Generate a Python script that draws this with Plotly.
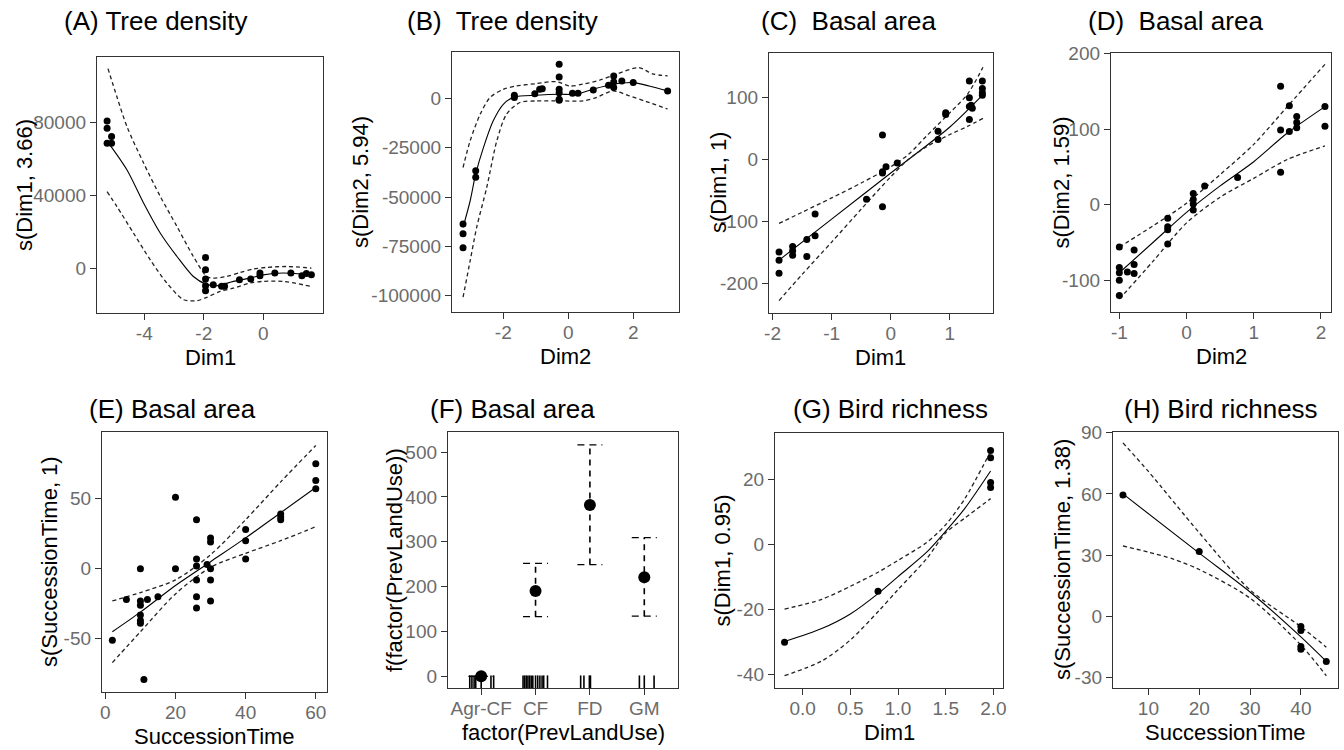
import plotly.graph_objects as go

# ---- data ----
# (A) Tree density ~ s(Dim1, 3.66)
a_pts_x = [-5.25, -5.25, -5.1, -5.25, -5.1, -1.94, -1.94, -1.94, -1.94, -1.94, -1.68, -1.4, -1.3,
           -0.8, -0.42, -0.11, -0.11, 0.39, 0.93, 1.3, 1.45, 1.62]
a_pts_y = [81000, 77000, 72500, 68700, 68700, 5900, -900, -6000, -9700, -12400, -9100, -10000, -10000,
           -6400, -6000, -2700, -4200, -2700, -2700, -4200, -3000, -3600]
a_fit_x = [-5.2, -4.58, -4.02, -3.46, -2.9, -2.35, -1.93, -1.56, -1.0, -0.44, 0.0, 0.67, 1.62]
a_fit_y = [68800, 54000, 35700, 19200, 6400, -4600, -8800, -9700, -7300, -5500, -3700, -2700, -3700]
a_up_x = [-5.22, -4.92, -4.58, -4.02, -3.46, -2.9, -2.35, -1.9, -1.68, -1.23, -0.78, -0.34, 0.11, 0.78, 1.62]
a_up_y = [109800, 94300, 77800, 57700, 39400, 22900, 6400, -4600, -5500, -4600, -2400, -500, 400, 900, 0]
a_lo_x = [-5.25, -4.92, -4.36, -3.8, -3.24, -2.68, -2.23, -1.9, -1.45, -1.0, -0.44, 0.0, 0.67, 1.62]
a_lo_y = [42100, 33900, 19200, 4600, -8200, -17400, -17900, -16100, -12800, -11000, -8200, -7300, -7300, -10100]

# (B) Tree density ~ s(Dim2, 5.94)
b_pts_x = [-3.24, -3.24, -3.24, -2.85, -2.85, -1.66, -1.66, -1.03, -0.88, -0.8, -0.28, -0.28, -0.28,
           -0.28, -0.28, -0.28, 0.13, 0.3, 0.77, 1.24, 1.4, 1.4, 1.4, 1.65, 2.0, 3.06]
b_pts_y = [-63700, -68700, -75800, -36600, -40000, 1700, 500, 2500, 4700, 5000, 17400, 11000, 4700,
           3000, -300, -800, 2700, 2700, 4400, 6700, 11500, 8400, 5600, 8900, 8100, 3900]
b_fit_x = [-3.24, -3.02, -2.85, -2.61, -2.31, -2.0, -1.66, -0.98, -0.27, 0.24, 0.76, 1.27, 2.0, 2.49, 3.06]
b_fit_y = [-65400, -51900, -38300, -24800, -11300, -2900, 800, 1700, 2200, 2200, 4700, 6900, 8100, 6400, 3900]
b_up_x = [-3.24, -3.02, -2.71, -2.41, -2.0, -1.59, -0.98, -0.37, 0.04, 0.45, 0.96, 1.47, 2.17, 2.6, 3.06]
b_up_y = [-35000, -21400, -7900, 500, 4700, 6400, 7600, 8600, 6400, 7300, 9300, 12300, 15700, 12500, 11500]
b_lo_x = [-3.24, -3.02, -2.82, -2.51, -2.2, -1.9, -1.49, -0.98, -0.18, 0.45, 0.86, 1.37, 1.88, 2.4, 3.06]
b_lo_y = [-100900, -82300, -65400, -45100, -21500, -7900, -2000, -1200, -1200, -1200, 500, 3900, 1400, -1500, -5300]

# (C) Basal area ~ s(Dim1, 1)
c_pts_x = [-1.89, -1.89, -1.89, -1.66, -1.66, -1.66, -1.42, -1.42, -1.28, -1.28, -0.41, -0.14, -0.14,
           -0.14, -0.14, -0.08, 0.11, 0.8, 0.8, 0.93, 0.93, 1.33, 1.33, 1.33, 1.33, 1.36, 1.38, 1.55,
           1.55, 1.55, 1.55]
c_pts_y = [-149, -162, -183, -140, -147, -154, -129, -156, -88, -123, -64, 39, -20, -22, -76, -12, -6,
           45, 32, 75, 72, 126, 99, 85, 64, 87, 82, 126, 114, 107, 103]
c_fit_x = [-1.89, -1.0, 0.0, 1.0, 1.56]
c_fit_y = [-162, -96, -22, 52, 104]
c_up_x = [-1.89, -1.5, -1.0, -0.5, 0.0, 0.3, 0.6, 1.0, 1.3, 1.56]
c_up_y = [-103, -85, -62, -38, -12, 8, 37, 75, 105, 148]
c_lo_x = [-1.89, -1.5, -1.0, -0.5, 0.0, 0.3, 0.6, 1.0, 1.3, 1.56]
c_lo_y = [-227, -185, -133, -80, -28, 0, 20, 40, 53, 66]

# (D) Basal area ~ s(Dim2, 1.59)
d_pts_x = [-1.0, -1.0, -1.0, -1.0, -1.0, -0.88, -0.78, -0.78, -0.78, -0.28, -0.28, -0.28, -0.28,
           0.1, 0.1, 0.1, 0.1, 0.27, 0.76, 1.4, 1.4, 1.4, 1.53, 1.53, 1.64, 1.64, 1.64, 2.06, 2.06]
d_pts_y = [-56, -83, -90, -100, -120, -89, -60, -79, -91, -18, -29, -33, -52, 15, 7, 1, -7, 25, 36,
           157, 99, 43, 131, 97, 117, 109, 102, 130, 104]
d_fit_x = [-1.0, -0.5, 0.0, 0.5, 1.0, 1.5, 2.06]
d_fit_y = [-90, -50, -10, 25, 57, 95, 130]
d_up_x = [-1.0, -0.5, 0.0, 0.5, 1.0, 1.5, 2.06]
d_up_y = [-56, -28, 2, 40, 80, 130, 186]
d_lo_x = [-1.0, -0.5, 0.0, 0.5, 1.0, 1.5, 2.06]
d_lo_y = [-125, -75, -24, 10, 35, 60, 78]

# (E) Basal area ~ s(SuccessionTime, 1)
e_pts_x = [2, 6, 10, 10, 10, 10, 10, 10, 11, 12, 15, 20, 20, 26, 26, 26, 26, 26, 26, 29, 30, 30, 30,
           30, 30, 40, 40, 40, 50, 50, 50, 60, 60, 60]
e_pts_y = [-51, -22, 0, -23, -26, -33, -37, -39, -79, -22, -20, 51, 0, 35, 7, 2, -8, -20, -28, 3, 22,
           19, 0, -8, -23, 28, 20, 7, 39, 37, 35, 75, 63, 57]
e_fit_x = [2, 10, 20, 30, 40, 50, 60]
e_fit_y = [-45, -31, -12, 5, 22, 40, 58]
e_up_x = [2, 10, 20, 30, 40, 50, 60]
e_up_y = [-23, -17, -8, 10, 35, 62, 88]
e_lo_x = [2, 10, 20, 30, 40, 50, 60]
e_lo_y = [-67, -45, -18, 1, 11, 20, 30]

# (F) Basal area ~ factor(PrevLandUse)
f_cats = ["Agr-CF", "CF", "FD", "GM"]
f_est = [0, 190, 382, 221]
f_upper = [0, 252, 516, 309]
f_lower = [0, 133, 249, 134]
f_rug_cat = [1, 1, 1, 1, 1, 1, 1, 2, 2, 2, 2, 2, 2, 2, 2, 2, 2, 2, 2, 2, 3, 3, 3, 3, 4, 4, 4]
f_rug_off = [-0.21, -0.17, -0.13, -0.1, 0.0, 0.18, 0.23, -0.23, -0.2, -0.17, -0.14, -0.11, -0.08,
             -0.05, 0.0, 0.04, 0.08, 0.12, 0.15, 0.22, -0.17, -0.11, -0.01, 0.01, -0.09, 0.0, 0.18]

# (G) Bird richness ~ s(Dim1, 0.95)
g_pts_x = [-0.19, 0.79, 1.97, 1.97, 1.97, 1.97]
g_pts_y = [-30.2, -14.5, 28.8, 26.6, 19.0, 17.4]
g_fit_x = [-0.19, 0.2, 0.5, 0.8, 1.0, 1.3, 1.5, 1.7, 1.97]
g_fit_y = [-30, -26, -21.5, -15, -10, -2.5, 4, 11, 22.5]
g_up_x = [-0.19, 0.2, 0.5, 0.8, 1.0, 1.3, 1.5, 1.7, 1.97]
g_up_y = [-20, -17, -13, -8.5, -5, 0.5, 6, 14, 28.5]
g_lo_x = [-0.19, 0.2, 0.5, 0.8, 1.0, 1.3, 1.5, 1.7, 1.97]
g_lo_y = [-40.5, -36, -29.5, -20.5, -14, -4.5, 3.5, 8, 14]

# (H) Bird richness ~ s(SuccessionTime, 1.38)
h_pts_x = [5, 20, 40, 40, 40, 40, 45]
h_pts_y = [59.5, 31.8, -4.9, -6.9, -14.7, -16, -22]
h_fit_x = [5, 20, 30, 40, 45]
h_fit_y = [60, 31, 12, -10, -22]
h_up_x = [5, 10, 20, 30, 40, 45]
h_up_y = [85, 71, 41, 13, -5, -15]
h_lo_x = [5, 10, 15, 20, 30, 40, 45]
h_lo_y = [34.5, 31.5, 28, 23, 9, -14, -29]

# ---- axes: ticks / ranges ----
a_xt = [-4, -2, 0]
a_yt = [0, 40000, 80000]
b_xt = [-2, 0, 2]
b_yt = [0, -25000, -50000, -75000, -100000]
c_xt = [-2, -1, 0, 1]
c_yt = [100, 0, -100, -200]
d_xt = [-1, 0, 1, 2]
d_yt = [200, 100, 0, -100]
e_xt = [0, 20, 40, 60]
e_yt = [50, 0, -50]
f_xt = [1, 2, 3, 4]
f_yt = [0, 100, 200, 300, 400, 500]
g_xt = [0.0, 0.5, 1.0, 1.5, 2.0]
g_yt = [20, 0, -20, -40]
h_xt = [10, 20, 30, 40]
h_yt = [90, 60, 30, 0, -30]

W, H = 1344, 750
FONT = "Liberation Sans, Arial, sans-serif"
TICKCOL = "#6b6b6b"
DASH = "4px,3px"


def px(x0, x1):
    return [x0 / W, x1 / W]


def py(y0, y1):
    return [1 - y1 / H, 1 - y0 / H]


def lab(v, fmt="{:g}"):
    return [fmt.format(t) for t in v]


panels = [
    # letter, title, xtitle, ytitle, box px (x0, x1, y0, y1), xrange, yrange, xticks, yticks, fmt,
    # title centre x, y-title centre x
    ("A", "(A) Tree density", "Dim1", "s(Dim1, 3.66)", (97, 323, 57, 313), [-5.59, 2.01], [-24700, 116200],
     a_xt, a_yt, "{:g}", 156, 24),
    ("B", "(B)  Tree density", "Dim2", "s(Dim2, 5.94)", (452, 679, 52, 312), [-3.58, 3.41], [-108400, 23650],
     b_xt, b_yt, "{:g}", 502, 360),
    ("C", "(C)  Basal area", "Dim1", "s(Dim1, 1)", (769, 993, 53, 313), [-2.06, 1.73], [-247, 171],
     c_xt, c_yt, "{:g}", 848, 718),
    ("D", "(D)  Basal area", "Dim2", "s(Dim2, 1.59)", (1111, 1331, 53, 312), [-1.124, 2.15], [-142, 201],
     d_xt, d_yt, "{:g}", 1175, 1061),
    ("E", "(E) Basal area", "SuccessionTime", "s(SuccessionTime, 1)", (102, 327, 432, 692), [-0.95, 63.2],
     [-88, 97.6], e_xt, e_yt, "{:g}", 172, 49),
    ("F", "(F) Basal area", "factor(PrevLandUse)", "f(factor(PrevLandUse))", (448, 678, 432, 688),
     [0.39, 4.62], [-26, 544.6], f_xt, f_yt, "{:g}", 512, 394),
    ("G", "(G) Bird richness", "Dim1", "s(Dim1, 0.95)", (775, 1003, 433, 688), [-0.29, 2.10], [-44.3, 34.2],
     g_xt, g_yt, "{:.1f}", 890, 722),
    ("H", "(H) Bird richness", "SuccessionTime", "s(SuccessionTime, 1.38)", (1113, 1338, 432, 688),
     [3.04, 47.3], [-35, 90.3], h_xt, h_yt, "{:g}", 1221, 1062),
]

curves = {
    "A": (a_pts_x, a_pts_y, a_fit_x, a_fit_y, a_up_x, a_up_y, a_lo_x, a_lo_y),
    "B": (b_pts_x, b_pts_y, b_fit_x, b_fit_y, b_up_x, b_up_y, b_lo_x, b_lo_y),
    "C": (c_pts_x, c_pts_y, c_fit_x, c_fit_y, c_up_x, c_up_y, c_lo_x, c_lo_y),
    "D": (d_pts_x, d_pts_y, d_fit_x, d_fit_y, d_up_x, d_up_y, d_lo_x, d_lo_y),
    "E": (e_pts_x, e_pts_y, e_fit_x, e_fit_y, e_up_x, e_up_y, e_lo_x, e_lo_y),
    "G": (g_pts_x, g_pts_y, g_fit_x, g_fit_y, g_up_x, g_up_y, g_lo_x, g_lo_y),
    "H": (h_pts_x, h_pts_y, h_fit_x, h_fit_y, h_up_x, h_up_y, h_lo_x, h_lo_y),
}

fig = go.Figure()
annotations = []
layout_axes = {}

for i, (key, title, xtitle, ytitle, box, xr, yr, xt, yt, fmt, tcx, ytx) in enumerate(panels):
    n = "" if i == 0 else str(i + 1)
    xa, ya = "x" + n, "y" + n
    x0, x1, y0, y1 = box
    common = dict(showline=True, linecolor="#333333", linewidth=1.3, mirror=True, ticks="outside",
                  ticklen=6, tickwidth=1.2, tickcolor="#333333", showgrid=False, zeroline=False,
                  automargin=False, tickfont=dict(family=FONT, size=19, color=TICKCOL))
    xticktext = f_cats if key == "F" else lab(xt, fmt)
    layout_axes["xaxis" + n] = dict(domain=px(x0, x1), range=xr, anchor=ya, tickvals=xt,
                                    ticktext=xticktext, ticklabelstandoff=-3, **common)
    layout_axes["yaxis" + n] = dict(domain=py(y0, y1), range=yr, anchor=xa, tickvals=yt,
                                    ticktext=lab(yt), **common)

    annotations.append(dict(text=title, x=tcx / W, y=1 - (21 if y0 < 200 else 409) / H, xref="paper",
                            yref="paper", showarrow=False, xanchor="center", yanchor="middle",
                            font=dict(family=FONT, size=26, color="black")))
    annotations.append(dict(text=xtitle, x=(x0 + x1) / 2 / W, y=1 - (y1 + 44) / H, xref="paper",
                            yref="paper", showarrow=False, xanchor="center", yanchor="middle",
                            font=dict(family=FONT, size=22, color="black")))
    annotations.append(dict(text=ytitle, x=ytx / W, y=1 - (y0 + y1) / 2 / H, xref="paper",
                            yref="paper", showarrow=False, xanchor="center", yanchor="middle",
                            textangle=-90, font=dict(family=FONT, size=22, color="black")))

    if key in curves:
        px_, py_, fx, fy, ux, uy, lx, ly = curves[key]
        fig.add_trace(go.Scatter(x=fx, y=fy, mode="lines", xaxis=xa, yaxis=ya,
                                 line=dict(color="black", width=1.1, shape="spline", smoothing=0.8)))
        for cx, cy in ((ux, uy), (lx, ly)):
            fig.add_trace(go.Scatter(x=cx, y=cy, mode="lines", xaxis=xa, yaxis=ya,
                                     line=dict(color="#222222", width=1.3, dash=DASH, shape="spline",
                                               smoothing=0.8)))
        fig.add_trace(go.Scatter(x=px_, y=py_, mode="markers", xaxis=xa, yaxis=ya,
                                 marker=dict(color="black", size=7)))
    else:
        # factor term: dashed error bars with dashed caps, rug along the bottom
        cap = 0.23
        vx, vy, hx, hy = [], [], [], []
        for k in range(len(f_cats)):
            pos = xt[k]
            vx += [pos, pos, None]
            vy += [f_lower[k], f_upper[k], None]
            for lim in (f_lower[k], f_upper[k]):
                hx += [pos - cap, pos + cap, None]
                hy += [lim, lim, None]
        fig.add_trace(go.Scatter(x=vx, y=vy, mode="lines", xaxis=xa, yaxis=ya,
                                 line=dict(color="black", width=1.6, dash="6px,5px")))
        fig.add_trace(go.Scatter(x=hx, y=hy, mode="lines", xaxis=xa, yaxis=ya,
                                 line=dict(color="black", width=1.3, dash="7px,5px")))
        fig.add_trace(go.Scatter(x=xt, y=f_est, mode="markers", xaxis=xa, yaxis=ya,
                                 marker=dict(color="black", size=12, symbol="circle")))
        rug_x = [xt[c - 1] + o for c, o in zip(f_rug_cat, f_rug_off)]
        fig.add_trace(go.Scatter(x=rug_x, y=[yr[0]] * len(rug_x), mode="markers", xaxis=xa, yaxis=ya,
                                 marker=dict(symbol="line-ns", size=18, color="black",
                                             line=dict(color="black", width=1.6))))

fig.update_layout(width=W, height=H, margin=dict(l=0, r=0, t=0, b=0, pad=0, autoexpand=False),
                  showlegend=False, plot_bgcolor="white", paper_bgcolor="white",
                  annotations=annotations, font=dict(family=FONT), **layout_axes)

# pin the 1344x750 figure to the window's top-left corner (no body margin, no scrolling)
pin = ("document.documentElement.style.margin='0';document.body.style.margin='0';"
       "document.documentElement.style.overflow='hidden';document.body.style.overflow='hidden';"
       "var d=document.getElementById('{plot_id}');d.style.position='fixed';d.style.left='0';d.style.top='0';")
fig.write_html("out.html", config={"displayModeBar": False}, post_script=pin)
